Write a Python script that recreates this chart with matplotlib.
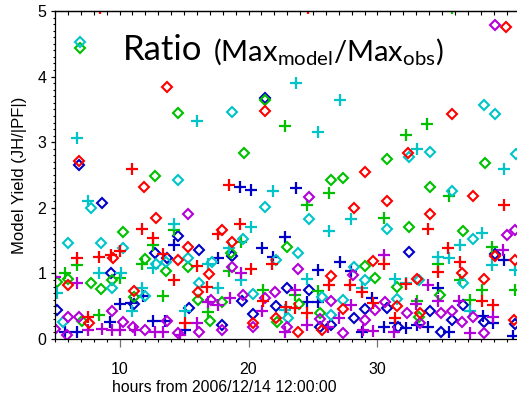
import matplotlib
matplotlib.use("Agg")
import matplotlib.pyplot as plt
from matplotlib.ticker import MultipleLocator, FixedLocator

plt.rcParams['font.family'] = ['Liberation Sans', 'DejaVu Sans']
plt.rcParams['mathtext.fontset'] = 'custom'
plt.rcParams['mathtext.rm'] = 'Lato'
plt.rcParams['mathtext.it'] = 'Lato:italic'

# (hour, max_model / max_obs) for each run; diamonds and crosses per colour
red_diamonds = [(39.94, 4.76), (13.66, 3.84), (21.26, 3.48), (6.88, 2.71), (11.92, 2.32), (35.78, 3.43),
                (32.36, 2.83), (29.01, 2.54), (37.43, 2.18), (30.71, 2.10), (28.14, 2.00), (34.09, 1.91),
                (12.83, 1.84), (17.92, 1.66), (15.33, 1.40), (18.70, 1.48), (9.52, 1.23), (14.51, 1.20),
                (16.96, 0.99), (6.03, 0.82), (11.12, 0.73), (16.11, 0.72), (26.40, 0.96), (29.67, 1.19),
                (33.09, 0.91), (36.57, 1.00), (38.28, 0.91), (39.09, 1.27), (40.66, 1.20), (22.13, 0.32),
                (20.33, 0.24), (23.86, 0.10), (27.29, 0.46), (25.67, 0.14), (31.53, 0.50), (33.26, 0.39),
                (7.66, 0.24), (40.61, 0.29)]
red_crosses = [(10.95, 2.59), (18.47, 2.34), (19.34, 1.76), (39.77, 2.04), (33.89, 1.68), (35.50, 1.39),
               (11.72, 1.67), (12.57, 1.54), (17.66, 1.60), (6.71, 1.24), (8.43, 1.25), (9.34, 1.28),
               (10.04, 1.34), (13.40, 1.29), (15.98, 1.12), (14.25, 0.90), (16.76, 0.80), (20.17, 1.07),
               (21.86, 1.14), (26.24, 0.82), (27.87, 0.83), (28.78, 0.72), (30.50, 1.15), (34.71, 1.02),
               (36.40, 1.17), (32.23, 0.84), (38.12, 0.58), (38.94, 0.52), (23.60, 0.47), (24.53, 0.39),
               (21.15, 0.58), (22.91, 0.49), (31.36, 0.32), (15.08, 0.24), (7.53, 0.34), (29.63, 0.55),
               (8.49, 5.05), (24.60, 5.05)]
green_diamonds = [(6.94, 4.44), (14.51, 3.45), (19.63, 2.84), (12.78, 2.48), (21.26, 3.64), (30.74, 2.74),
                  (26.37, 2.43), (27.33, 2.45), (38.31, 2.68), (34.09, 2.31), (10.27, 1.63), (32.44, 1.71),
                  (36.63, 1.65), (23.01, 1.41), (18.67, 1.31), (11.98, 1.22), (15.33, 1.10), (13.63, 1.04),
                  (6.03, 0.91), (5.13, 0.87), (7.77, 0.85), (8.60, 0.76), (9.40, 0.90), (29.02, 1.12),
                  (29.77, 0.93), (31.55, 0.79), (34.86, 0.67), (16.11, 0.59), (17.92, 0.57), (11.12, 0.64),
                  (23.88, 0.54), (25.56, 0.40), (22.19, 0.26), (17.02, 0.27), (7.10, 0.28), (33.24, 0.34)]
green_crosses = [(22.81, 3.25), (33.86, 3.27), (32.19, 3.11), (26.22, 2.22), (35.52, 2.18), (24.53, 2.05),
                 (30.50, 1.84), (12.57, 1.44), (14.25, 1.66), (19.42, 1.48), (6.68, 1.13), (5.78, 1.01),
                 (10.04, 0.93), (11.72, 1.15), (18.51, 1.04), (13.40, 0.66), (16.88, 0.41), (21.09, 0.75),
                 (25.40, 0.73), (23.60, 0.67), (34.71, 1.14), (38.90, 1.41), (36.40, 0.90), (38.09, 0.74),
                 (40.64, 0.74), (37.19, 0.59), (33.04, 0.58), (8.43, 0.37), (35.80, 5.05)]
blue_diamonds = [(21.26, 3.68), (6.88, 2.66), (8.64, 2.07), (14.55, 1.57), (16.18, 1.35), (12.75, 1.31),
                 (13.66, 1.23), (18.70, 1.27), (9.34, 1.00), (32.44, 1.33), (39.07, 1.29), (23.01, 0.77),
                 (24.67, 0.75), (11.12, 0.54), (15.35, 0.48), (19.47, 0.58), (22.10, 0.50), (20.37, 0.38),
                 (28.14, 0.32), (29.02, 0.46), (30.74, 0.48), (34.09, 0.42), (36.64, 0.52), (35.75, 0.29),
                 (38.28, 0.26), (17.92, 0.21), (25.52, 0.19), (26.40, 0.21), (31.59, 0.18), (34.90, 0.10),
                 (5.13, 0.44), (40.64, 0.23)]
blue_crosses = [(19.34, 2.31), (20.17, 2.27), (23.66, 2.30), (14.25, 1.44), (22.83, 1.55), (21.07, 1.39),
                (17.66, 1.24), (21.88, 1.25), (27.09, 1.17), (25.40, 1.05), (27.95, 1.04), (39.82, 1.20),
                (34.71, 0.77), (29.61, 0.63), (24.52, 0.56), (25.41, 0.57), (11.84, 0.66), (10.04, 0.54),
                (12.62, 0.27), (13.53, 0.27), (15.08, 0.14), (9.26, 0.26), (5.78, 0.11), (6.68, 0.11),
                (28.78, 0.11), (30.53, 0.19), (31.36, 0.24), (32.21, 0.17), (33.04, 0.21), (33.93, 0.19),
                (35.57, 0.10), (38.18, 0.35), (38.95, 0.24), (40.50, 0.05), (10.90, 0.55)]
cyan_diamonds = [(6.94, 4.52), (18.70, 3.46), (14.53, 2.42), (32.41, 2.78), (34.09, 2.85), (38.28, 3.57),
                 (39.11, 3.43), (40.71, 2.82), (35.78, 2.26), (7.77, 1.99), (21.28, 2.01), (24.71, 1.83),
                 (30.70, 1.68), (37.44, 1.52), (6.03, 1.46), (8.57, 1.46), (10.27, 1.38), (19.60, 1.53),
                 (23.85, 1.31), (13.60, 1.18), (12.83, 1.15), (15.33, 1.23), (22.17, 1.20), (17.15, 1.18),
                 (28.18, 1.09), (33.23, 0.90), (36.65, 0.86), (29.03, 0.90), (16.20, 0.85), (9.40, 0.78),
                 (11.98, 0.66), (20.37, 0.68), (25.67, 0.64), (27.31, 0.59), (31.55, 0.61), (23.04, 0.32),
                 (26.40, 0.36), (5.64, 0.26)]
cyan_crosses = [(6.73, 3.06), (16.03, 3.33), (23.66, 3.90), (27.12, 3.65), (25.39, 3.16), (33.09, 2.89),
                (39.78, 2.59), (21.90, 2.26), (7.58, 2.11), (27.95, 1.83), (26.24, 1.65), (14.25, 1.75),
                (38.12, 1.62), (20.17, 1.71), (18.51, 1.39), (12.62, 1.08), (16.88, 1.15), (36.40, 1.43),
                (35.54, 1.23), (34.70, 1.25), (38.90, 1.13), (40.66, 1.05), (8.40, 1.01), (10.12, 1.00),
                (19.40, 0.90), (24.53, 0.91), (31.36, 0.92), (32.21, 0.86), (28.82, 0.77), (17.66, 0.77),
                (11.72, 0.77), (5.13, 0.70), (10.95, 0.42), (15.08, 0.43), (22.83, 0.44), (37.17, 0.42)]
magenta_diamonds = [(39.09, 4.79), (15.33, 1.91), (24.70, 2.16), (40.00, 1.59), (40.66, 1.66), (23.85, 1.07),
                    (18.70, 1.10), (28.12, 0.97), (22.08, 0.72), (19.60, 0.67), (21.28, 0.62), (26.40, 0.58),
                    (30.56, 0.56), (9.40, 0.43), (29.81, 0.44), (34.95, 0.40), (35.74, 0.43), (32.31, 0.39),
                    (37.42, 0.34), (36.57, 0.26), (33.26, 0.24), (25.54, 0.30), (29.02, 0.29), (23.01, 0.19),
                    (20.37, 0.19), (17.92, 0.14), (16.19, 0.10), (14.56, 0.09), (11.98, 0.14), (11.07, 0.19),
                    (5.91, 0.06), (5.00, 0.16), (6.03, 0.34), (6.88, 0.34), (10.29, 0.26), (13.66, 0.27),
                    (27.33, 0.09), (38.29, 0.09), (17.07, 0.59)]
magenta_crosses = [(39.76, 1.36), (30.50, 1.28), (19.40, 1.00), (33.88, 0.83), (6.68, 0.85), (5.00, 0.95),
                   (18.57, 0.63), (23.60, 0.75), (16.88, 0.57), (17.66, 0.52), (27.95, 0.52), (33.01, 0.54),
                   (34.71, 0.58), (36.29, 0.58), (21.02, 0.42), (27.04, 0.32), (38.96, 0.33), (15.98, 0.24),
                   (24.51, 0.21), (26.19, 0.19), (22.83, 0.11), (28.88, 0.13), (29.64, 0.12), (31.31, 0.11),
                   (37.19, 0.09), (7.58, 0.14), (8.62, 0.16), (9.40, 0.14), (10.04, 0.14), (11.20, 0.14),
                   (12.75, 0.11), (13.40, 0.11), (14.69, 0.06)]

x_ticks = [10, 20, 30]
y_ticks = [0, 1, 2, 3, 4, 5]

RED = '#ff0000'
GREEN = '#00c000'
BLUE = '#0000c8'
CYAN = '#00c4c8'
MAGENTA = '#b400d8'

series = [
    (blue_crosses, BLUE, '+'), (blue_diamonds, BLUE, 'D'),
    (green_crosses, GREEN, '+'), (green_diamonds, GREEN, 'D'),
    (cyan_crosses, CYAN, '+'), (cyan_diamonds, CYAN, 'D'),
    (magenta_crosses, MAGENTA, '+'), (magenta_diamonds, MAGENTA, 'D'),
    (red_crosses, RED, '+'), (red_diamonds, RED, 'D'),
]

fig = plt.figure(figsize=(5.17, 3.93), dpi=100)
ax = fig.add_axes([55 / 517, 54 / 393, 464.4 / 517, 328 / 393])

for pts, col, mk in series:
    xs = [p[0] for p in pts]
    ys = [p[1] for p in pts]
    if mk == 'D':
        ax.plot(xs, ys, linestyle='none', marker='D', markersize=5.3,
                markerfacecolor='none', markeredgecolor=col, markeredgewidth=1.5)
    else:
        ax.plot(xs, ys, linestyle='none', marker='+', markersize=8.6,
                markeredgecolor=col, markeredgewidth=1.6)

ax.set_xlim(5, 41)
ax.set_ylim(0, 5)

ax.spines['right'].set_visible(False)
for s in ('left', 'bottom', 'top'):
    ax.spines[s].set_linewidth(0.9)

ax.xaxis.set_major_locator(FixedLocator(x_ticks))
ax.xaxis.set_minor_locator(MultipleLocator(1))
ax.yaxis.set_major_locator(FixedLocator(y_ticks))
ax.yaxis.set_minor_locator(MultipleLocator(0.1))

ax.tick_params(axis='x', which='major', direction='out', length=5.8, width=0.9,
               color='0.45', pad=11, labelsize=11.5)
ax.tick_params(axis='x', which='minor', direction='out', length=2.4, width=0.8)
ax.tick_params(axis='y', which='major', direction='out', length=3.2, width=0.9,
               pad=3, labelsize=11.5)
ax.tick_params(axis='y', which='minor', direction='out', length=1.8, width=0.8)

top = ax.secondary_xaxis('top')
top.xaxis.set_major_locator(FixedLocator(x_ticks))
top.xaxis.set_minor_locator(MultipleLocator(1))
top.tick_params(which='both', direction='in', labeltop=False, length=2.6, width=0.8)
top.spines['top'].set_linewidth(0.9)

ax.text(0.1464, 0.8506, 'Ratio', transform=ax.transAxes, fontsize=25,
        family='Lato', ha='left', va='baseline')
ax.text(0.3402, 0.8506, r'$\mathrm{(Max_{model}/Max_{obs})}$', transform=ax.transAxes,
        fontsize=21, ha='left', va='baseline')

fig.text(112 / 517, 1.5 / 393, 'hours from 2006/12/14 12:00:00', fontsize=11.3,
         ha='left', va='baseline')
fig.text(20 / 517, 1 - 175.5 / 393, 'Model Yield (JH/|PF|)', fontsize=12,
         rotation=90, ha='center', va='center')

fig.savefig('out.png', dpi=100)
